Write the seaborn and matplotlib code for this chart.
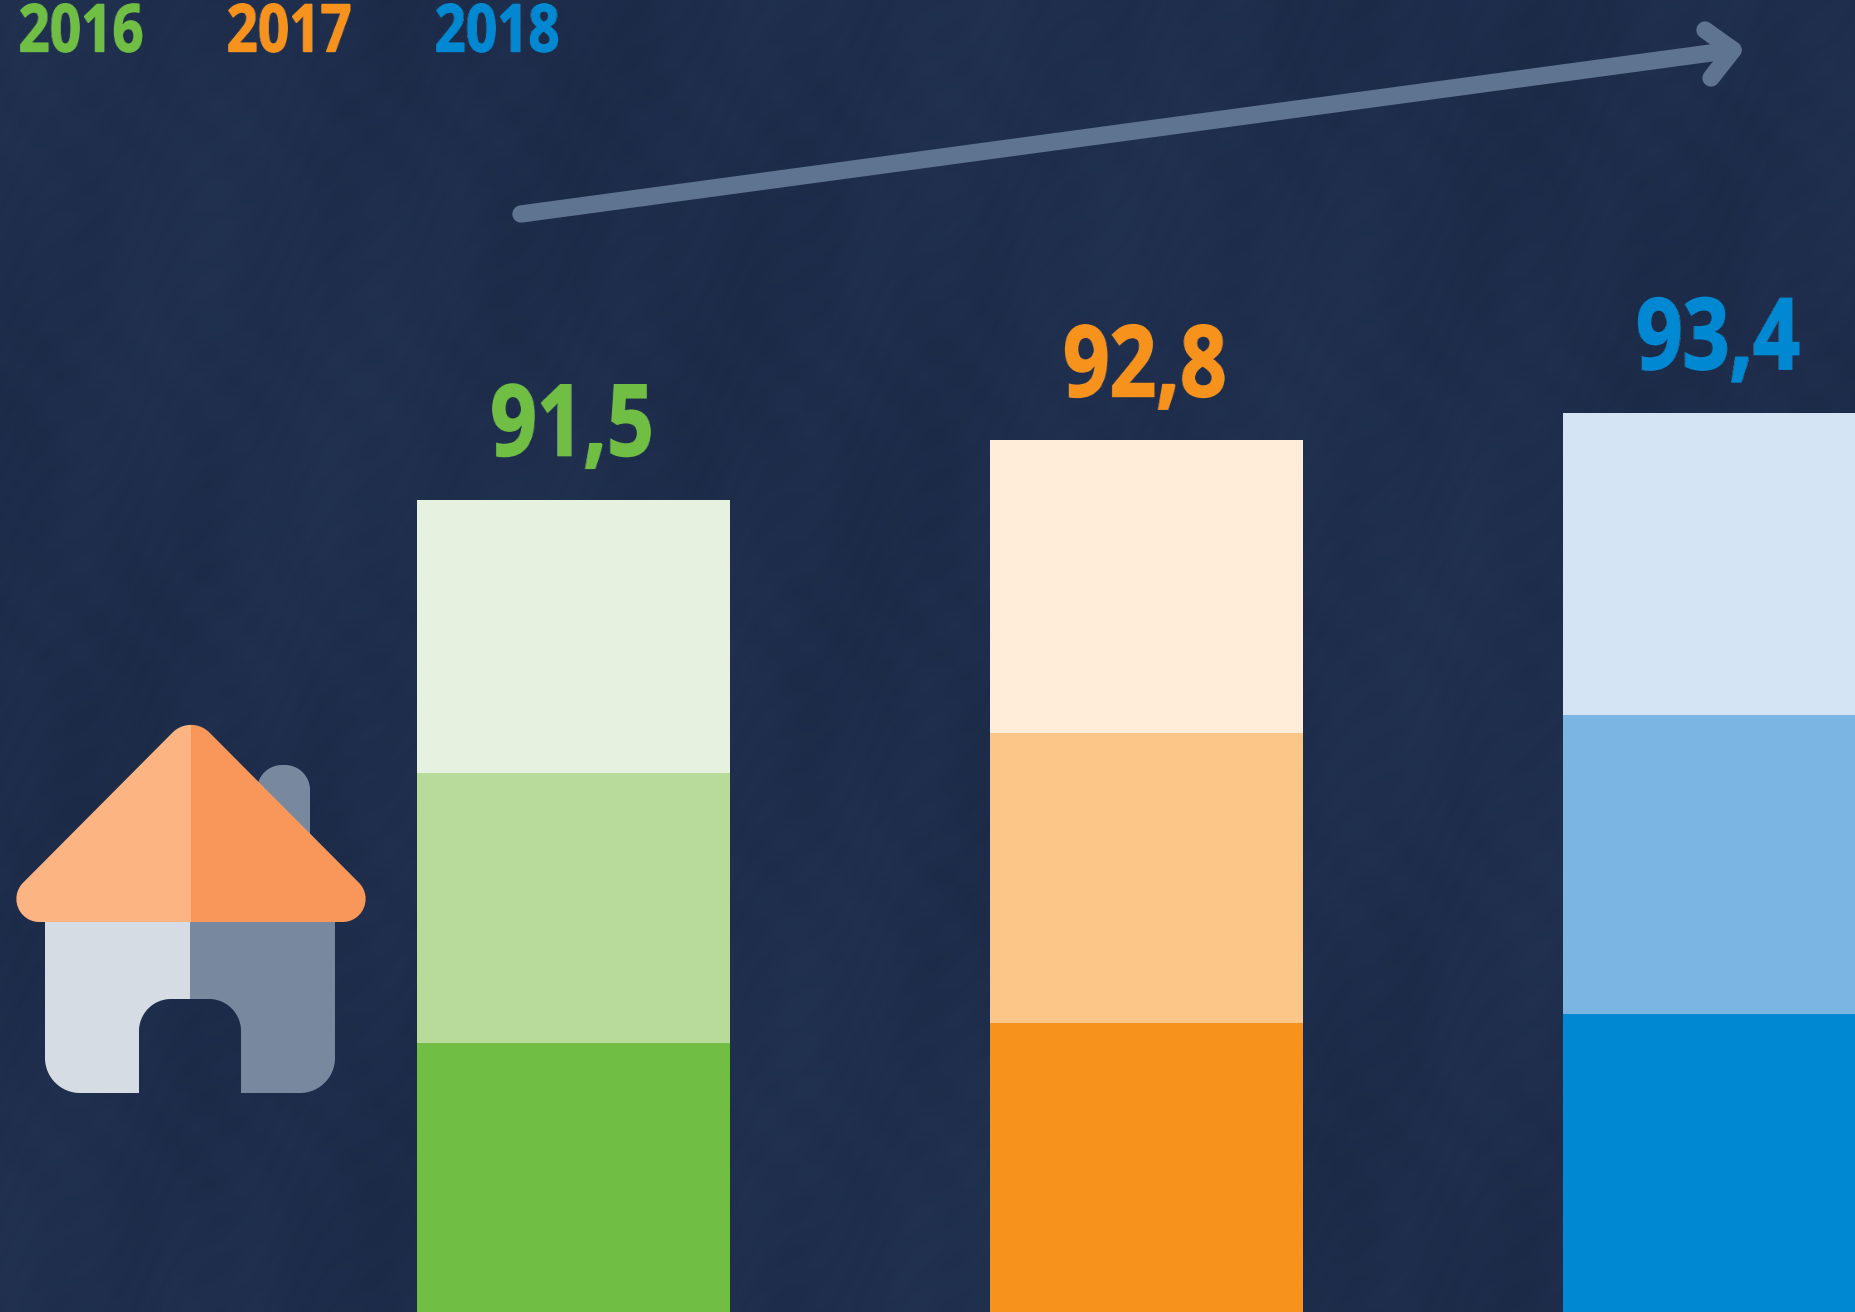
import numpy as np
import pandas as pd
import seaborn as sns
import matplotlib.pyplot as plt
import matplotlib.patheffects as pe
from matplotlib.patches import PathPatch, Rectangle
from matplotlib.path import Path

years = ["2016", "2017", "2018"]
totals = [91.5, 92.8, 93.4]
total_labels = ["91,5", "92,8", "93,4"]
upper_levels = [85.49, 86.37, 86.76]
lower_levels = [79.55, 80.0, 80.19]

dark_colors = ["#70bf44", "#f7931d", "#0089d2"]
mid_colors = ["#b8da9b", "#fdc689", "#7ab5e4"]
light_colors = ["#e6f2df", "#ffedd9", "#d5e4f4"]

BG = "#1d2c49"

sns.set_style("white")
plt.rcParams["font.family"] = ["Open Sans", "DejaVu Sans"]

df = pd.DataFrame({"year": years, "total": totals, "upper": upper_levels, "lower": lower_levels})


def squeeze(factor):
    # no condensed font installed, so narrow the drawn text around its centre
    def apply(img, dpi):
        h, w, depth = img.shape
        new_w = int(round(w * factor))
        xs = np.linspace(0, w - 1, new_w)
        out = np.zeros((h, new_w, depth), dtype=img.dtype)
        for row in range(h):
            for c in range(depth):
                out[row, :, c] = np.interp(xs, np.arange(w), img[row, :, c])
        return out, (w - new_w) // 2, 0
    return apply


def heavy_text(t, color, width):
    # Open Sans bold is lighter than the original face
    t.set_path_effects([pe.withStroke(linewidth=width, foreground=color, joinstyle="miter")])
    t.set_agg_filter(squeeze(0.83))


fig = plt.figure(figsize=(18.56, 13.12), dpi=100, facecolor=BG)
ax = fig.add_axes([0, 0, 1, 1])
ax.set_facecolor("none")

# faint mottling of the chalkboard background
yy, xx = np.mgrid[0:1312:3, 0:1856:3]
mottle = (np.sin(xx / 37 + yy / 91) + np.sin(xx / 13 - yy / 29 + np.sin(yy / 40) * 2) * 0.6
          + np.sin(xx / 149 - yy / 211 + 1.3) * 1.4 + np.sin(xx / 5 + yy / 7 + np.sin(xx / 23) * 3) * 0.5)
bg_ax = fig.add_axes([0, 0, 1, 1], zorder=-1)
bg_ax.imshow(mottle, cmap=sns.blend_palette(["#1a2a47", "#213150"], as_cmap=True), aspect="auto")
bg_ax.axis("off")

# the three shades are drawn over each other, tallest first
for col, colors in [("total", light_colors), ("upper", mid_colors), ("lower", dark_colors)]:
    sns.barplot(data=df, x="year", y=col, hue="year", palette=colors, dodge=False, legend=False,
                width=0.5475, saturation=1, linewidth=0, ax=ax)

ax.set_xlim(-1.0013, 2.2385)
ax.set_ylim(73.64, 102.48)
ax.axis("off")

for i, label in enumerate(total_labels):
    t = ax.text(i - 0.002, totals[i] + 0.97, label, color=dark_colors[i], ha="center", va="baseline",
                fontsize=71, fontweight="bold")
    heavy_text(t, dark_colors[i], 1.4)

# pixel overlay for the legend years, arrow and house icon
over = fig.add_axes([0, 0, 1, 1])
over.set_xlim(0, 1856)
over.set_ylim(1312, 0)
over.axis("off")

for x, year, color in zip([81.5, 289.5, 497.5], years, dark_colors):
    t = over.text(x, 51.5, year, color=color, ha="center", va="baseline", fontsize=47.5, fontweight="bold")
    heavy_text(t, color, 1.0)

arrow = "#5f7490"
over.plot([521, 1733], [214, 50], color=arrow, lw=12.5, solid_capstyle="round")
over.plot([1705, 1733, 1711], [30, 50, 78], color=arrow, lw=12.5,
          solid_capstyle="round", solid_joinstyle="round")


def rounded(points, radii):
    # polygon with true circular corners, radius given per vertex
    verts = []
    n = len(points)
    for i in range(n):
        p = np.array(points[i], float)
        r = radii[i]
        if r == 0:
            verts.append(p)
            continue
        a = np.array(points[i - 1], float) - p
        b = np.array(points[(i + 1) % n], float) - p
        a /= np.linalg.norm(a)
        b /= np.linalg.norm(b)
        half = np.arccos(np.clip(a @ b, -1, 1)) / 2
        d = r / np.tan(half)
        mid = (a + b) / np.linalg.norm(a + b)
        c = p + mid * r / np.sin(half)
        p1, p2 = p + a * d, p + b * d
        for s in np.linspace(0, 1, 24):
            v = (1 - s) * (p1 - c) + s * (p2 - c)
            verts.append(c + v / np.linalg.norm(v) * r)
    verts.append(verts[0])
    codes = [Path.MOVETO] + [Path.LINETO] * (len(verts) - 2) + [Path.CLOSEPOLY]
    return Path(verts, codes)


def two_tone(path, left_color, right_color, split, zorder):
    for x0, x1, color in [(0, split, left_color), (split, 500, right_color)]:
        patch = PathPatch(path, facecolor=color, edgecolor="none", zorder=zorder)
        over.add_patch(patch)
        clip = Rectangle((x0, 600), x1 - x0, 600, transform=over.transData)
        patch.set_clip_path(clip)


chimney = rounded([(257, 765), (310, 765), (310, 850), (257, 850)], [25, 25, 0, 0])
over.add_patch(PathPatch(chimney, facecolor="#78899f", edgecolor="none", zorder=2))

body = rounded([(45, 921), (335, 921), (335, 1093), (241, 1093), (241, 999), (139, 999), (139, 1093), (45, 1093)],
               [0, 0, 35, 0, 32, 32, 0, 35])
two_tone(body, "#d5dce4", "#78899f", 190, 3)

roof = rounded([(191, 714), (398, 922), (-16, 922)], [26, 23, 23])
two_tone(roof, "#fbb482", "#f9975a", 191, 4)

fig.savefig("out.png", dpi=100, facecolor=BG)
